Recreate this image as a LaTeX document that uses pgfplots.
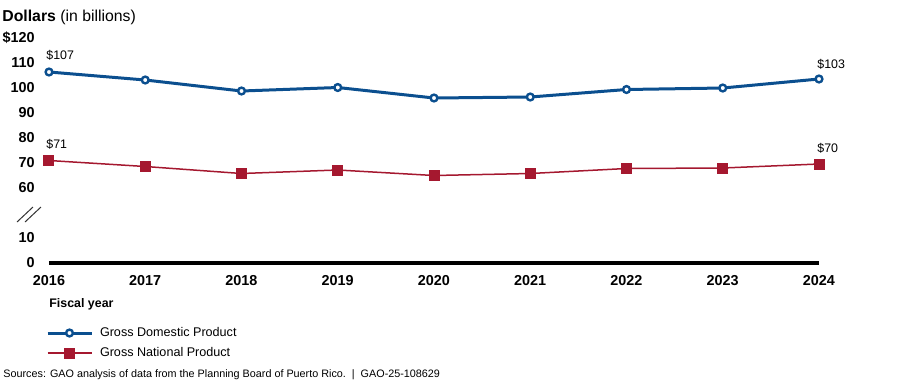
\documentclass[border=0pt]{standalone}
\usepackage{fontspec}
\setmainfont{Liberation Sans}
\usepackage{pgfplots}
\pgfplotsset{compat=1.18}
\definecolor{gdpblue}{HTML}{0B4F8F}
\definecolor{gnpred}{HTML}{A5182F}
\begin{document}
\begin{tikzpicture}
\path[use as bounding box] (0,0) rectangle (450pt,194pt);
\begin{axis}[
  at={(24.5pt,62.5pt)}, anchor=south west,
  scale only axis, width=385pt, height=112.5pt,
  xmin=2016, xmax=2024, ymin=0, ymax=90,
  axis x line*=bottom, axis y line*=left,
  x axis line style={line width=2pt, -},
  y axis line style={draw=none},
  major tick length=0pt,
  xtick={2016,2017,...,2024},
  xticklabels={2016,2017,2018,2019,2020,2021,2022,2023,2024},
  ytick={0,10,30,40,50,60,70,80,90},
  yticklabels={0,10,60,70,80,90,100,110,\$120},
  ticklabel style={font=\bfseries\fontsize{7.2}{8}\selectfont, inner sep=0pt},
  xticklabel style={anchor=north, yshift=-6pt},
  yticklabel style={anchor=east, xshift=-7pt},
  clip=false,
  legend style={at={(0,0)}, anchor=north west, xshift=-1.5pt, yshift=-31.75pt,
    draw=none, fill=none, inner sep=0pt, outer sep=0pt,
    row sep=3.5pt, column sep=3.5pt,
    font=\fontsize{6.3}{7.5}\selectfont,
    nodes={inner sep=0pt, text height=5pt, text depth=1.5pt}},
  legend cell align=left,
  legend image code/.code={\draw[mark repeat=2,mark phase=2] plot coordinates {(0pt,0pt) (11pt,0pt) (22pt,0pt)};},
  y filter/.expression={y-30},
]
\addplot[gdpblue, line width=1.5pt, mark=*, mark size=1.7pt,
  mark options={fill=white, draw=gdpblue, line width=1.2pt}]
  coordinates {(2016,106.4) (2017,103.2) (2018,98.8) (2019,100.2) (2020,96.0)
               (2021,96.4) (2022,99.4) (2023,100.0) (2024,103.6)};
\addlegendentry{Gross Domestic Product}
\addplot[gnpred, line width=0.75pt, mark=square*, mark size=2.5pt,
  mark options={fill=gnpred, draw=gnpred, line width=0pt}]
  coordinates {(2016,71.0) (2017,68.6) (2018,65.8) (2019,67.2) (2020,65.0)
               (2021,65.8) (2022,67.8) (2023,68.0) (2024,69.6)};
\addlegendentry{Gross National Product}
\begin{scope}[font=\fontsize{6.2}{7}\selectfont, inner sep=0pt]
\node[anchor=west, xshift=-1.5pt] at (axis cs:2016,83.2) {\$107};
\node[anchor=west, xshift=-1.5pt] at (axis cs:2016,47.6) {\$71};
\node[anchor=west, xshift=-1pt] at (axis cs:2024,79.6) {\$103};
\node[anchor=west, xshift=-1pt] at (axis cs:2024,46) {\$70};
\end{scope}
\end{axis}
\draw[black!80, line width=0.5pt] (8.5pt,83pt) -- (16.5pt,90.5pt);
\draw[black!80, line width=0.5pt] (12.5pt,83pt) -- (20.5pt,90.5pt);
\node[anchor=west, inner sep=0pt, font=\fontsize{7.9}{9}\selectfont] at (1pt,185.5pt) {\textbf{Dollars} (in billions)};
\node[anchor=base west, inner sep=0pt, font=\bfseries\fontsize{6.2}{7.5}\selectfont] at (24.5pt,40.3pt) {Fiscal year};
\node[anchor=base west, inner sep=0pt, font=\fontsize{5.4}{6.5}\selectfont] at (1.5pt,5.1pt) {Sources: GAO analysis of data from the Planning Board of Puerto Rico.\ \ |\ \ GAO-25-108629};
\end{tikzpicture}
\end{document}
